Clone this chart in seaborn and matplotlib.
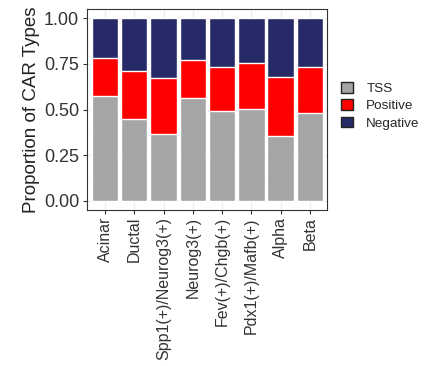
import matplotlib
matplotlib.use("Agg")
import matplotlib.pyplot as plt
from matplotlib.patches import Patch
import seaborn as sns
import pandas as pd
import numpy as np

# proportions
cell_types = ["Acinar", "Ductal", "Spp1(+)/Neurog3(+)", "Neurog3(+)",
              "Fev(+)/Chgb(+)", "Pdx1(+)/Mafb(+)", "Alpha", "Beta"]
tss = [0.576, 0.446, 0.368, 0.563, 0.495, 0.506, 0.357, 0.481]
positive = [0.205, 0.268, 0.306, 0.206, 0.241, 0.248, 0.321, 0.251]
negative = [0.219, 0.286, 0.326, 0.231, 0.264, 0.246, 0.322, 0.268]

col_tss = "#A5A5A5"
col_pos = "#FF0000"
col_neg = "#262B67"

df = pd.DataFrame({"type": cell_types, "TSS": tss,
                   "Positive": positive, "Negative": negative})
df["top_pos"] = df["TSS"] + df["Positive"]
df["top_neg"] = df["top_pos"] + df["Negative"]

sns.set_style("white")
plt.rcParams["font.family"] = ["Liberation Sans", "DejaVu Sans"]

fig = plt.figure(figsize=(4.32, 3.66), dpi=100)
ax = fig.add_axes([0.2025, 0.426, 0.5555, 0.549])

# stacked bars drawn back to front
sns.barplot(data=df, x="type", y="top_neg", color=col_neg, width=0.9,
            saturation=1, ax=ax, zorder=2)
sns.barplot(data=df, x="type", y="top_pos", color=col_pos, width=0.9,
            saturation=1, ax=ax, zorder=2)
sns.barplot(data=df, x="type", y="TSS", color=col_tss, width=0.9,
            saturation=1, ax=ax, zorder=2)

ax.set_xlim(-0.6, len(cell_types) - 0.4)
ax.set_ylim(-0.05, 1.05)
ax.set_yticks([0, 0.25, 0.5, 0.75, 1.0])
ax.set_yticklabels(["0.00", "0.25", "0.50", "0.75", "1.00"])
ax.set_yticks([0.125, 0.375, 0.625, 0.875], minor=True)
ax.grid(True, which="major", color="#EBEBEB", linewidth=0.8, zorder=0)
ax.grid(True, which="minor", axis="y", color="#F3F3F3", linewidth=0.5, zorder=0)
ax.set_axisbelow(True)

ax.set_xlabel("")
ax.set_ylabel("Proportion of CAR Types", fontsize=13.5, color="#222222", labelpad=3)
ax.tick_params(axis="x", labelrotation=90, labelsize=11.5, colors="#333333",
               length=3, width=0.8, pad=2, bottom=True)
ax.tick_params(axis="y", labelsize=13, colors="#333333",
               length=3, width=0.8, pad=3, left=True)
for lab in ax.get_xticklabels() + ax.get_yticklabels():
    lab.set_color("#333333")
for s in ax.spines.values():
    s.set_color("#333333")
    s.set_linewidth(0.8)

handles = [Patch(facecolor=col_tss, edgecolor="#222222", label="TSS"),
           Patch(facecolor=col_pos, edgecolor="#222222", label="Positive"),
           Patch(facecolor=col_neg, edgecolor="#222222", label="Negative")]
fig.legend(handles=handles, loc="upper left", bbox_to_anchor=(0.79, 0.775),
           frameon=False, fontsize=9.7, handlelength=0.85, handleheight=0.85,
           handletextpad=1.0, labelspacing=0.3, borderpad=0, borderaxespad=0)

fig.savefig("out.png", dpi=100)
